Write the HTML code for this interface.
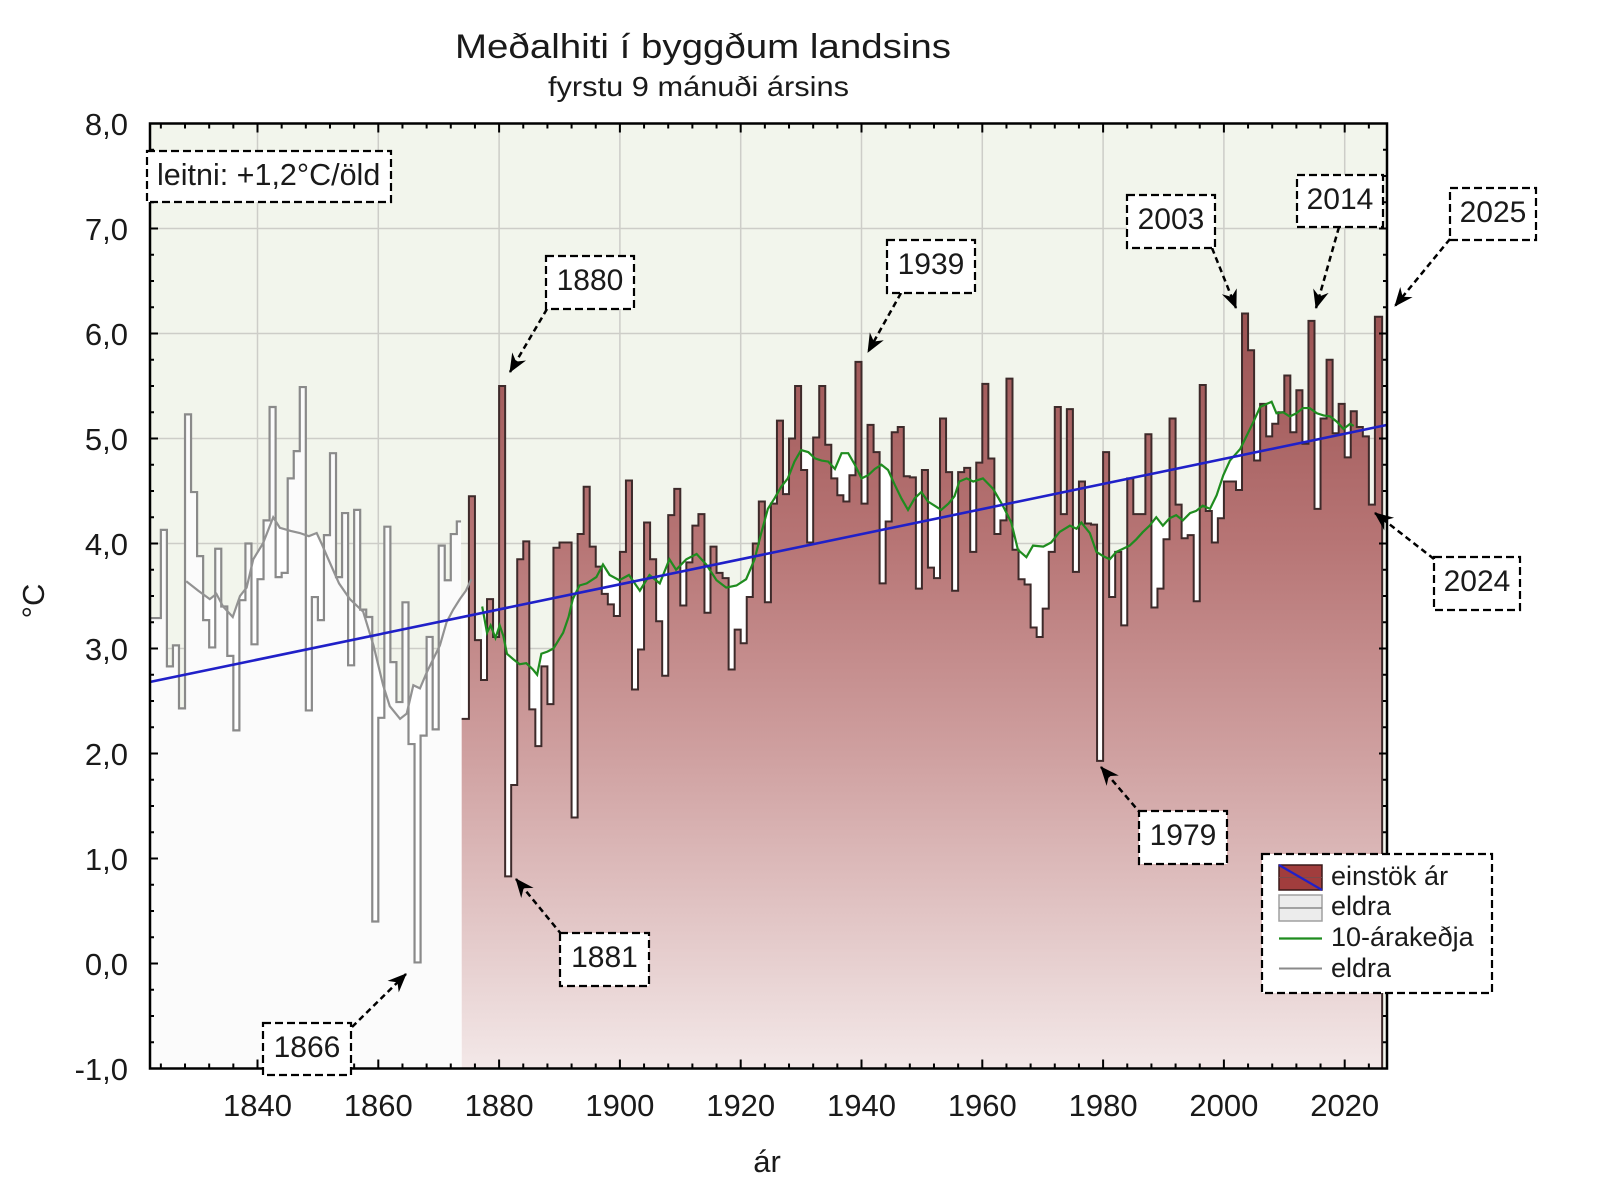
<!DOCTYPE html>
<html><head><meta charset="utf-8"><style>
html,body{margin:0;padding:0;background:#fff}
svg{display:block}
text{font-family:"Liberation Sans",Arial,sans-serif;fill:#1a1a1a}
</style></head><body>
<svg width="1600" height="1200" viewBox="0 0 1600 1200" xmlns="http://www.w3.org/2000/svg">
<defs>
<linearGradient id="pg" gradientUnits="userSpaceOnUse" x1="0" y1="6.3" x2="0" y2="-1">
<stop offset="0" stop-color="#9a5151"/>
<stop offset="0.315" stop-color="#b77575"/>
<stop offset="0.59" stop-color="#cfa0a0"/>
<stop offset="1" stop-color="#f3e8e8"/>
</linearGradient>
<clipPath id="cp"><rect x="150" y="123.5" width="1237" height="945"/></clipPath>
<marker id="ah" markerWidth="22" markerHeight="18" refX="0" refY="0" orient="auto" markerUnits="userSpaceOnUse" viewBox="-20 -9 22 18" overflow="visible">
<path d="M1,0 L-18,-8 L-12,0 L-18,8 Z" fill="#000"/>
</marker>
</defs>

<rect x="0" y="0" width="1600" height="1200" fill="#fff"/>
<rect x="150" y="123.5" width="1237" height="945" fill="#f2f5ec"/>

<path d="M257.5,123.5V1068.5M378.3,123.5V1068.5M499.1,123.5V1068.5M619.9,123.5V1068.5M740.7,123.5V1068.5M861.5,123.5V1068.5M982.3,123.5V1068.5M1103.1,123.5V1068.5M1223.9,123.5V1068.5M1344.7,123.5V1068.5M150,228.5H1387M150,333.5H1387M150,438.5H1387M150,543.5H1387M150,648.5H1387M150,753.5H1387M150,858.5H1387M150,963.5H1387" stroke="#cdcdc8" stroke-width="1.5" fill="none"/>

<g clip-path="url(#cp)">
<g transform="matrix(6.04 0 0 -105 -10856.1 963.5)">
<path fill="#ffffff" d="M1828.2,-1 L1828.2,3.64 1830.2,3.55 1832.1,3.47 1833.2,3.52 1834.3,3.40 1835.9,3.30 1837.1,3.50 1838.2,3.58 1839.3,3.85 1840.9,4.00 1842.6,4.25 1843.7,4.15 1845.5,4.12 1847,4.10 1848.5,4.07 1849.8,4.10 1850.6,4.00 1851.5,3.88 1852.5,3.75 1853.5,3.62 1855.3,3.47 1857.5,3.35 1859.2,3.03 1860.8,2.65 1861.9,2.45 1863.6,2.33 1864.7,2.38 1865.8,2.65 1866.9,2.62 1868,2.77 1869.1,2.90 1870.2,3.03 1871.3,3.25 1872.4,3.37 1873.5,3.47 1874.5,3.55 1875.4,3.66 1875.4,-1 Z"/>
<path fill="#ffffff" d="M1877.2,-1 L1877.2,3.40 1878,3.15 1878.6,3.22 1879.4,3.10 1880.1,3.22 1880.7,3.12 1881.3,2.95 1882.3,2.90 1883.4,2.85 1884.5,2.86 1885.6,2.80 1886.3,2.75 1887,2.95 1888,2.97 1889,3.00 1890.6,3.15 1891.5,3.30 1892.2,3.47 1893.3,3.60 1894.5,3.62 1896.1,3.68 1897.2,3.80 1898.3,3.70 1899.9,3.65 1901.5,3.70 1903.3,3.55 1904.9,3.70 1906.6,3.62 1908.2,3.85 1909.3,3.75 1911,3.85 1912.7,3.90 1914.3,3.80 1916,3.65 1917.6,3.58 1919.3,3.60 1920.9,3.66 1922.3,3.85 1923.4,4.10 1924.5,4.33 1925.6,4.43 1926.7,4.54 1927.8,4.62 1928.9,4.78 1930,4.89 1931.2,4.87 1932.3,4.81 1933.4,4.79 1934.5,4.78 1935.6,4.71 1936.7,4.86 1937.8,4.86 1938.9,4.75 1940,4.62 1941.1,4.65 1942.2,4.71 1943.3,4.75 1944.4,4.70 1945.5,4.56 1946.6,4.43 1947.7,4.32 1948.8,4.43 1949.9,4.49 1951,4.40 1952.1,4.36 1953.2,4.32 1954.4,4.38 1955.4,4.45 1956.2,4.59 1957.4,4.62 1958.5,4.59 1960.1,4.62 1961.8,4.52 1963.4,4.36 1964.8,4.20 1965.9,3.94 1967.3,3.87 1968.4,3.98 1970.1,3.97 1971.4,4.01 1972.8,4.11 1974.5,4.17 1975.6,4.14 1976.4,4.20 1977.8,4.10 1978.9,3.92 1980,3.88 1981.1,3.85 1982.2,3.92 1983.3,3.95 1984.4,3.98 1985.5,4.04 1986.6,4.11 1987.7,4.17 1988.8,4.25 1989.9,4.17 1991,4.24 1992.1,4.27 1993.2,4.22 1994.4,4.29 1995.4,4.31 1996.5,4.36 1997.7,4.33 1998.8,4.46 1999.9,4.65 2001,4.79 2002.7,4.90 2003.8,5.03 2004.9,5.16 2006,5.30 2007.1,5.33 2007.9,5.35 2008.7,5.24 2009.8,5.25 2010.9,5.21 2012,5.24 2013.1,5.29 2014.2,5.29 2015.4,5.24 2016.5,5.22 2017.6,5.21 2018.7,5.16 2019.8,5.09 2020.9,5.14 2021.5,5.12 2021.5,-1 Z"/>
<path fill="#fbfbfb" d="M1822.1,-1 V3.29 H1824 V4.13 H1825 V2.83 H1826 V3.03 H1827 V2.43 H1828 V5.23 H1829 V4.49 H1830 V3.88 H1831 V3.27 H1832 V3.01 H1833 V3.95 H1834 V3.40 H1835 V2.93 H1836 V2.22 H1837 V3.46 H1838 V4.00 H1839 V3.04 H1840 V3.66 H1841 V4.22 H1842 V5.30 H1843 V3.68 H1844 V3.72 H1845 V4.62 H1846 V4.88 H1847 V5.49 H1848 V2.41 H1849 V3.49 H1850 V3.27 H1851 V4.08 H1852 V4.86 H1853 V3.68 H1854 V4.29 H1855 V2.84 H1856 V4.32 H1857 V3.37 H1858 V3.30 H1859 V0.40 H1860 V2.34 H1861 V4.16 H1862 V2.87 H1863 V2.49 H1864 V3.44 H1865 V2.09 H1866 V0.01 H1867 V2.17 H1868 V3.11 H1869 V2.23 H1870 V3.98 H1871 V3.65 H1872 V4.09 H1873 V4.21 H1873.7 V-1 Z"/>
<path fill="url(#pg)" d="M1873.8,-1 V2.33 H1875 V4.45 H1876 V3.08 H1877 V2.70 H1878 V3.47 H1879 V3.11 H1880 V5.50 H1881 V0.83 H1882 V1.70 H1883 V3.85 H1884 V4.02 H1885 V2.42 H1886 V2.07 H1887 V2.83 H1888 V2.47 H1889 V3.96 H1890 V4.01 H1891 V4.01 H1892 V1.39 H1893 V4.09 H1894 V4.54 H1895 V3.97 H1896 V3.78 H1897 V3.52 H1898 V3.42 H1899 V3.31 H1900 V3.92 H1901 V4.60 H1902 V2.61 H1903 V2.99 H1904 V4.20 H1905 V3.85 H1906 V3.26 H1907 V2.74 H1908 V4.27 H1909 V4.52 H1910 V3.41 H1911 V3.82 H1912 V4.17 H1913 V4.28 H1914 V3.34 H1915 V3.97 H1916 V3.72 H1917 V3.67 H1918 V2.80 H1919 V3.18 H1920 V3.05 H1921 V3.49 H1922 V4.00 H1923 V4.40 H1924 V3.44 H1925 V4.38 H1926 V5.17 H1927 V4.47 H1928 V5.00 H1929 V5.50 H1930 V4.70 H1931 V4.01 H1932 V5.01 H1933 V5.50 H1934 V4.94 H1935 V4.62 H1936 V4.46 H1937 V4.40 H1938 V4.65 H1939 V5.73 H1940 V4.38 H1941 V5.13 H1942 V4.87 H1943 V3.62 H1944 V4.21 H1945 V5.06 H1946 V5.11 H1947 V4.64 H1948 V4.63 H1949 V3.57 H1950 V4.70 H1951 V3.77 H1952 V3.67 H1953 V5.19 H1954 V4.68 H1955 V3.55 H1956 V4.68 H1957 V4.72 H1958 V3.92 H1959 V4.77 H1960 V5.52 H1961 V4.81 H1962 V4.09 H1963 V4.22 H1964 V5.57 H1965 V3.94 H1966 V3.66 H1967 V3.61 H1968 V3.20 H1969 V3.11 H1970 V3.38 H1971 V3.92 H1972 V5.30 H1973 V4.28 H1974 V5.28 H1975 V3.73 H1976 V4.59 H1977 V4.19 H1978 V4.18 H1979 V1.93 H1980 V4.87 H1981 V3.49 H1982 V3.92 H1983 V3.22 H1984 V4.62 H1985 V4.28 H1986 V4.28 H1987 V5.04 H1988 V3.39 H1989 V3.57 H1990 V4.04 H1991 V5.19 H1992 V4.37 H1993 V4.05 H1994 V4.08 H1995 V3.45 H1996 V5.51 H1997 V4.31 H1998 V4.01 H1999 V4.24 H2000 V4.59 H2001 V4.59 H2002 V4.51 H2003 V6.19 H2004 V5.84 H2005 V4.79 H2006 V5.33 H2007 V5.02 H2008 V5.14 H2009 V5.25 H2010 V5.60 H2011 V5.06 H2012 V5.46 H2013 V4.95 H2014 V6.12 H2015 V4.33 H2016 V5.19 H2017 V5.75 H2018 V5.05 H2019 V5.33 H2020 V4.82 H2021 V5.26 H2022 V5.11 H2023 V5.02 H2024 V4.37 H2025 V6.16 H2026.2 V-1 Z"/>
<path fill="none" stroke="#8a8a8a" stroke-width="2.2" vector-effect="non-scaling-stroke" d="M1822.1,3.29 H1824 V4.13 H1825 V2.83 H1826 V3.03 H1827 V2.43 H1828 V5.23 H1829 V4.49 H1830 V3.88 H1831 V3.27 H1832 V3.01 H1833 V3.95 H1834 V3.40 H1835 V2.93 H1836 V2.22 H1837 V3.46 H1838 V4.00 H1839 V3.04 H1840 V3.66 H1841 V4.22 H1842 V5.30 H1843 V3.68 H1844 V3.72 H1845 V4.62 H1846 V4.88 H1847 V5.49 H1848 V2.41 H1849 V3.49 H1850 V3.27 H1851 V4.08 H1852 V4.86 H1853 V3.68 H1854 V4.29 H1855 V2.84 H1856 V4.32 H1857 V3.37 H1858 V3.30 H1859 V0.40 H1860 V2.34 H1861 V4.16 H1862 V2.87 H1863 V2.49 H1864 V3.44 H1865 V2.09 H1866 V0.01 H1867 V2.17 H1868 V3.11 H1869 V2.23 H1870 V3.98 H1871 V3.65 H1872 V4.09 H1873 V4.21 H1873.7"/>
<path fill="none" stroke="#3d2a2a" stroke-width="2" vector-effect="non-scaling-stroke" d="M1873.8,2.33 H1875 V4.45 H1876 V3.08 H1877 V2.70 H1878 V3.47 H1879 V3.11 H1880 V5.50 H1881 V0.83 H1882 V1.70 H1883 V3.85 H1884 V4.02 H1885 V2.42 H1886 V2.07 H1887 V2.83 H1888 V2.47 H1889 V3.96 H1890 V4.01 H1891 V4.01 H1892 V1.39 H1893 V4.09 H1894 V4.54 H1895 V3.97 H1896 V3.78 H1897 V3.52 H1898 V3.42 H1899 V3.31 H1900 V3.92 H1901 V4.60 H1902 V2.61 H1903 V2.99 H1904 V4.20 H1905 V3.85 H1906 V3.26 H1907 V2.74 H1908 V4.27 H1909 V4.52 H1910 V3.41 H1911 V3.82 H1912 V4.17 H1913 V4.28 H1914 V3.34 H1915 V3.97 H1916 V3.72 H1917 V3.67 H1918 V2.80 H1919 V3.18 H1920 V3.05 H1921 V3.49 H1922 V4.00 H1923 V4.40 H1924 V3.44 H1925 V4.38 H1926 V5.17 H1927 V4.47 H1928 V5.00 H1929 V5.50 H1930 V4.70 H1931 V4.01 H1932 V5.01 H1933 V5.50 H1934 V4.94 H1935 V4.62 H1936 V4.46 H1937 V4.40 H1938 V4.65 H1939 V5.73 H1940 V4.38 H1941 V5.13 H1942 V4.87 H1943 V3.62 H1944 V4.21 H1945 V5.06 H1946 V5.11 H1947 V4.64 H1948 V4.63 H1949 V3.57 H1950 V4.70 H1951 V3.77 H1952 V3.67 H1953 V5.19 H1954 V4.68 H1955 V3.55 H1956 V4.68 H1957 V4.72 H1958 V3.92 H1959 V4.77 H1960 V5.52 H1961 V4.81 H1962 V4.09 H1963 V4.22 H1964 V5.57 H1965 V3.94 H1966 V3.66 H1967 V3.61 H1968 V3.20 H1969 V3.11 H1970 V3.38 H1971 V3.92 H1972 V5.30 H1973 V4.28 H1974 V5.28 H1975 V3.73 H1976 V4.59 H1977 V4.19 H1978 V4.18 H1979 V1.93 H1980 V4.87 H1981 V3.49 H1982 V3.92 H1983 V3.22 H1984 V4.62 H1985 V4.28 H1986 V4.28 H1987 V5.04 H1988 V3.39 H1989 V3.57 H1990 V4.04 H1991 V5.19 H1992 V4.37 H1993 V4.05 H1994 V4.08 H1995 V3.45 H1996 V5.51 H1997 V4.31 H1998 V4.01 H1999 V4.24 H2000 V4.59 H2001 V4.59 H2002 V4.51 H2003 V6.19 H2004 V5.84 H2005 V4.79 H2006 V5.33 H2007 V5.02 H2008 V5.14 H2009 V5.25 H2010 V5.60 H2011 V5.06 H2012 V5.46 H2013 V4.95 H2014 V6.12 H2015 V4.33 H2016 V5.19 H2017 V5.75 H2018 V5.05 H2019 V5.33 H2020 V4.82 H2021 V5.26 H2022 V5.11 H2023 V5.02 H2024 V4.37 H2025 V6.16 H2026.2 V-1"/>
<path fill="none" stroke="#929292" stroke-width="2.2" vector-effect="non-scaling-stroke" d="M1828.2,3.64 L1830.2,3.55 1832.1,3.47 1833.2,3.52 1834.3,3.40 1835.9,3.30 1837.1,3.50 1838.2,3.58 1839.3,3.85 1840.9,4.00 1842.6,4.25 1843.7,4.15 1845.5,4.12 1847,4.10 1848.5,4.07 1849.8,4.10 1850.6,4.00 1851.5,3.88 1852.5,3.75 1853.5,3.62 1855.3,3.47 1857.5,3.35 1859.2,3.03 1860.8,2.65 1861.9,2.45 1863.6,2.33 1864.7,2.38 1865.8,2.65 1866.9,2.62 1868,2.77 1869.1,2.90 1870.2,3.03 1871.3,3.25 1872.4,3.37 1873.5,3.47 1874.5,3.55 1875.4,3.66"/>
<path fill="none" stroke="#1f8c1f" stroke-width="2.2" vector-effect="non-scaling-stroke" d="M1877.2,3.40 L1878,3.15 1878.6,3.22 1879.4,3.10 1880.1,3.22 1880.7,3.12 1881.3,2.95 1882.3,2.90 1883.4,2.85 1884.5,2.86 1885.6,2.80 1886.3,2.75 1887,2.95 1888,2.97 1889,3.00 1890.6,3.15 1891.5,3.30 1892.2,3.47 1893.3,3.60 1894.5,3.62 1896.1,3.68 1897.2,3.80 1898.3,3.70 1899.9,3.65 1901.5,3.70 1903.3,3.55 1904.9,3.70 1906.6,3.62 1908.2,3.85 1909.3,3.75 1911,3.85 1912.7,3.90 1914.3,3.80 1916,3.65 1917.6,3.58 1919.3,3.60 1920.9,3.66 1922.3,3.85 1923.4,4.10 1924.5,4.33 1925.6,4.43 1926.7,4.54 1927.8,4.62 1928.9,4.78 1930,4.89 1931.2,4.87 1932.3,4.81 1933.4,4.79 1934.5,4.78 1935.6,4.71 1936.7,4.86 1937.8,4.86 1938.9,4.75 1940,4.62 1941.1,4.65 1942.2,4.71 1943.3,4.75 1944.4,4.70 1945.5,4.56 1946.6,4.43 1947.7,4.32 1948.8,4.43 1949.9,4.49 1951,4.40 1952.1,4.36 1953.2,4.32 1954.4,4.38 1955.4,4.45 1956.2,4.59 1957.4,4.62 1958.5,4.59 1960.1,4.62 1961.8,4.52 1963.4,4.36 1964.8,4.20 1965.9,3.94 1967.3,3.87 1968.4,3.98 1970.1,3.97 1971.4,4.01 1972.8,4.11 1974.5,4.17 1975.6,4.14 1976.4,4.20 1977.8,4.10 1978.9,3.92 1980,3.88 1981.1,3.85 1982.2,3.92 1983.3,3.95 1984.4,3.98 1985.5,4.04 1986.6,4.11 1987.7,4.17 1988.8,4.25 1989.9,4.17 1991,4.24 1992.1,4.27 1993.2,4.22 1994.4,4.29 1995.4,4.31 1996.5,4.36 1997.7,4.33 1998.8,4.46 1999.9,4.65 2001,4.79 2002.7,4.90 2003.8,5.03 2004.9,5.16 2006,5.30 2007.1,5.33 2007.9,5.35 2008.7,5.24 2009.8,5.25 2010.9,5.21 2012,5.24 2013.1,5.29 2014.2,5.29 2015.4,5.24 2016.5,5.22 2017.6,5.21 2018.7,5.16 2019.8,5.09 2020.9,5.14 2021.5,5.12"/>
<path fill="none" stroke="#2020c8" stroke-width="2.6" vector-effect="non-scaling-stroke" d="M1822.1,2.68 L2027.1,5.13"/>
</g>
</g>

<rect x="150" y="123.5" width="1237" height="945" fill="none" stroke="#000" stroke-width="2.5"/>
<g stroke="#000" stroke-width="2" fill="none">
<path id="lt" d="M150,1068.5h8M150,963.5h8M150,858.5h8M150,753.5h8M150,648.5h8M150,543.5h8M150,438.5h8M150,333.5h8M150,228.5h8M150,123.5h8M150,1042.25h4M150,1016h4M150,989.75h4M150,937.25h4M150,911h4M150,884.75h4M150,832.25h4M150,806h4M150,779.75h4M150,727.25h4M150,701h4M150,674.75h4M150,622.25h4M150,596h4M150,569.75h4M150,517.25h4M150,491h4M150,464.75h4M150,412.25h4M150,386h4M150,359.75h4M150,307.25h4M150,281h4M150,254.75h4M150,202.25h4M150,176h4M150,149.75h4"/>
<use href="#lt" transform="matrix(-1 0 0 1 1537 0)"/>
<path id="bt" d="M257.5,1068.5v-9M378.3,1068.5v-9M499.1,1068.5v-9M619.9,1068.5v-9M740.7,1068.5v-9M861.5,1068.5v-9M982.3,1068.5v-9M1103.1,1068.5v-9M1223.9,1068.5v-9M1344.7,1068.5v-9M160.86,1068.5v-5M185.02,1068.5v-5M209.18,1068.5v-5M233.34,1068.5v-5M281.66,1068.5v-5M305.82,1068.5v-5M329.98,1068.5v-5M354.14,1068.5v-5M402.46,1068.5v-5M426.62,1068.5v-5M450.78,1068.5v-5M474.94,1068.5v-5M523.26,1068.5v-5M547.42,1068.5v-5M571.58,1068.5v-5M595.74,1068.5v-5M644.06,1068.5v-5M668.22,1068.5v-5M692.38,1068.5v-5M716.54,1068.5v-5M764.86,1068.5v-5M789.02,1068.5v-5M813.18,1068.5v-5M837.34,1068.5v-5M885.66,1068.5v-5M909.82,1068.5v-5M933.98,1068.5v-5M958.14,1068.5v-5M1006.46,1068.5v-5M1030.62,1068.5v-5M1054.78,1068.5v-5M1078.94,1068.5v-5M1127.26,1068.5v-5M1151.42,1068.5v-5M1175.58,1068.5v-5M1199.74,1068.5v-5M1248.06,1068.5v-5M1272.22,1068.5v-5M1296.38,1068.5v-5M1320.54,1068.5v-5M1368.86,1068.5v-5"/>
<use href="#bt" transform="matrix(1 0 0 -1 0 1192)"/>
</g>

<g font-size="31" text-anchor="end">
<text x="128" y="135">8,0</text>
<text x="128" y="240">7,0</text>
<text x="128" y="345">6,0</text>
<text x="128" y="450">5,0</text>
<text x="128" y="555">4,0</text>
<text x="128" y="660">3,0</text>
<text x="128" y="765">2,0</text>
<text x="128" y="870">1,0</text>
<text x="128" y="975">0,0</text>
<text x="128" y="1080">-1,0</text>
</g>
<g font-size="31" text-anchor="middle">
<text x="257.5" y="1116">1840</text>
<text x="378.3" y="1116">1860</text>
<text x="499.1" y="1116">1880</text>
<text x="619.9" y="1116">1900</text>
<text x="740.7" y="1116">1920</text>
<text x="861.5" y="1116">1940</text>
<text x="982.3" y="1116">1960</text>
<text x="1103.1" y="1116">1980</text>
<text x="1223.9" y="1116">2000</text>
<text x="1344.7" y="1116">2020</text>
</g>
<text x="767" y="1172" font-size="31" text-anchor="middle">ár</text>
<text x="44" y="601" font-size="31" text-anchor="middle" transform="rotate(-90 44 601)">°C</text>

<text x="455" y="58" font-size="34" textLength="496" lengthAdjust="spacingAndGlyphs" fill="#262626">Meðalhiti í byggðum landsins</text>
<text x="548" y="96" font-size="28" textLength="301" lengthAdjust="spacingAndGlyphs" fill="#262626">fyrstu 9 mánuði ársins</text>

<g stroke="#000" stroke-width="2.5" stroke-dasharray="6 4" fill="none" marker-end="url(#ah)">
<line x1="547" y1="309" x2="510" y2="372"/>
<line x1="901" y1="293" x2="868" y2="352"/>
<line x1="1212" y1="248" x2="1236" y2="308"/>
<line x1="1339" y1="227" x2="1316" y2="308"/>
<line x1="1450" y1="239" x2="1395" y2="306"/>
<line x1="1434" y1="559" x2="1375" y2="513"/>
<line x1="1142" y1="815" x2="1101" y2="767"/>
<line x1="562" y1="935" x2="516" y2="879"/>
<line x1="352" y1="1027" x2="406" y2="974"/>
</g>

<g fill="#fff" stroke="#000" stroke-width="2.2" stroke-dasharray="8 4">
<rect x="147" y="151" width="244" height="51"/>
<rect x="546" y="256" width="88" height="53"/>
<rect x="887" y="240" width="88" height="53"/>
<rect x="1127" y="195" width="88" height="53"/>
<rect x="1297" y="175" width="86" height="52"/>
<rect x="1450" y="188" width="86" height="52"/>
<rect x="1434" y="557" width="86" height="53"/>
<rect x="1139" y="811" width="88" height="53"/>
<rect x="560" y="933" width="89" height="53"/>
<rect x="263" y="1023" width="88" height="52"/>
<rect x="1262" y="854" width="230" height="139"/>
</g>
<g font-size="30.5">
<text x="157" y="185">leitni: +1,2°C/öld</text>
</g>
<g font-size="30" text-anchor="middle">
<text x="590" y="290">1880</text>
<text x="931" y="274">1939</text>
<text x="1171" y="229">2003</text>
<text x="1340" y="209">2014</text>
<text x="1493" y="222">2025</text>
<text x="1477" y="591">2024</text>
<text x="1183" y="845">1979</text>
<text x="604.5" y="967">1881</text>
<text x="307" y="1057">1866</text>
</g>

<rect x="1279" y="865" width="43" height="25" fill="#a13d3d" stroke="#3a1a1a" stroke-width="1.5"/>
<line x1="1279" y1="877.5" x2="1322" y2="877.5" stroke="#7a4a4a" stroke-width="1"/>
<line x1="1279" y1="865" x2="1322" y2="890" stroke="#2020c8" stroke-width="2.2"/>
<rect x="1279" y="895" width="43" height="26" fill="#ececec" stroke="#a0a0a0" stroke-width="1.5"/>
<line x1="1279" y1="908" x2="1322" y2="908" stroke="#8a8a8a" stroke-width="1.5"/>
<line x1="1279" y1="938.5" x2="1322" y2="938.5" stroke="#1f8c1f" stroke-width="2.2"/>
<line x1="1279" y1="968.5" x2="1322" y2="968.5" stroke="#8a8a8a" stroke-width="2"/>
<g font-size="27">
<text x="1331" y="885">einstök ár</text>
<text x="1331" y="915">eldra</text>
<text x="1331" y="946">10-árakeðja</text>
<text x="1331" y="977">eldra</text>
</g>
</svg>
</body></html>
